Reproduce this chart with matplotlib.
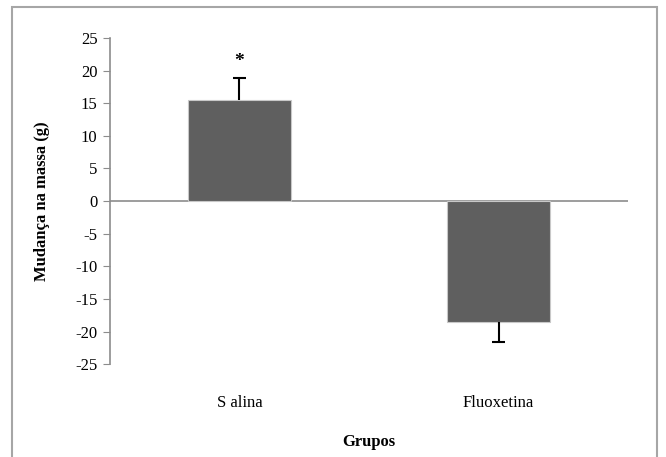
import matplotlib.pyplot as plt
from matplotlib.patches import Rectangle

grupos = ["S alina", "Fluoxetina"]
mudanca = [15.5, -18.5]
erro = [3.4, 3.1]
yticks = list(range(-25, 30, 5))

plt.rcParams['font.family'] = ['Liberation Serif', 'DejaVu Serif']
plt.rcParams['axes.unicode_minus'] = False

fig = plt.figure(figsize=(6.66, 4.57), dpi=100)
ax = fig.add_axes([0.165, 0.203, 0.778, 0.714])

x = list(range(len(grupos)))
ax.bar(x, mudanca, width=0.4, color="#5f5f5f", edgecolor="#c8c8c8", linewidth=0.8, zorder=2)

# one-sided error bars, like Excel
for xi, v, e in zip(x, mudanca, erro):
    fim = v + e if v >= 0 else v - e
    ax.vlines(xi, v, fim, color='black', linewidth=1.5, zorder=3)
    ax.hlines(fim, xi - 0.025, xi + 0.025, color='black', linewidth=1.5, zorder=3)

ax.text(0, mudanca[0] + erro[0] + 2.5, "*", ha='center', va='center', fontsize=14, fontweight='bold')

ax.axhline(0, color="#8c8c8c", linewidth=1.2, zorder=1)
ax.set_xlim(-0.5, 1.5)
ax.set_ylim(-25, 25)
ax.set_yticks(yticks)
ax.set_xticks(x)
ax.set_xticklabels(grupos, fontsize=12)
ax.tick_params(axis='x', length=0, pad=22)
ax.tick_params(axis='y', direction='out', length=5, color="#8c8c8c", labelsize=12, pad=4)
for s in ['top', 'right', 'bottom']:
    ax.spines[s].set_visible(False)
ax.spines['left'].set_color("#8c8c8c")
ax.spines['left'].set_linewidth(1.2)

ax.set_xlabel("Grupos", fontsize=12, fontweight='bold', labelpad=17)
ax.set_ylabel("Mudança na massa (g)", fontsize=12, fontweight='bold', labelpad=18)

fig.patches.append(Rectangle((12 / 666, -0.01), (657 - 12) / 666, 1 - 7 / 457 + 0.01,
                             transform=fig.transFigure, fill=False, edgecolor="#a6a6a6",
                             linewidth=1.5))

fig.savefig("out.png", dpi=100)
